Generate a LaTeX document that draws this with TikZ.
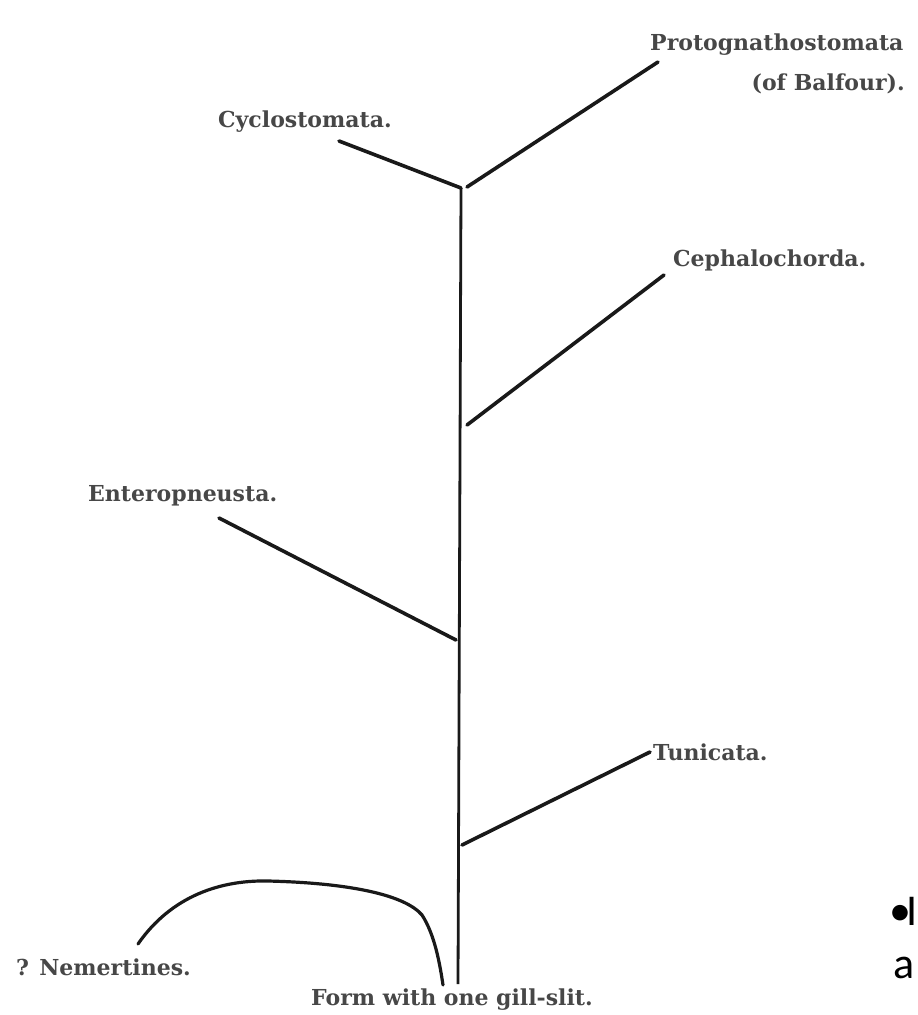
\documentclass[tikz,border=0pt]{standalone}
\usepackage{fontspec}
\setmainfont{DejaVu Serif}
\newfontfamily\slidefont{Carlito}
\begin{document}
\begin{tikzpicture}[x=1pt,y=-1pt,
  lbl/.style={font=\fontsize{22}{26}\selectfont\bfseries, inner sep=0pt, text=black!72},
  slide/.style={font=\slidefont\fontsize{44}{48}\selectfont, inner sep=0pt, text=black},
  branch/.style={line width=3.6pt, black!90, line cap=round},
  stem/.style={line width=2.8pt, black!90}]
\useasboundingbox (0,0) rectangle (918,1015);
% labels
\node[lbl, anchor=west] (proto) at (650,45) {Protognathostomata};
\node[lbl, anchor=east] (balf) at (905,84) {(of Balfour).};
\node[lbl, anchor=west] (cyclo) at (218,122) {Cyclostomata.};
\node[lbl, anchor=west] (ceph) at (673,260) {Cephalochorda.};
\node[lbl, anchor=west] (entero) at (88,496) {Enteropneusta.};
\node[lbl, anchor=west] (tuni) at (653,752) {Tunicata.};
\node[lbl, anchor=west] (nem) at (16,967) {? Nemertines.};
\node[lbl, anchor=west] (form) at (311,1000) {Form with one gill-slit.};
% coordinates
\coordinate (fork) at (461,188);
\coordinate (base) at (458,984);
\coordinate (cycE) at (339,141);
\coordinate (proE) at (658,62);
\coordinate (proJ) at (467,187);
\coordinate (cepJ) at (467,425);
\coordinate (cepE) at (664,275);
\coordinate (entJ) at (456,640);
\coordinate (entE) at (219,518);
\coordinate (tunJ) at (462,845);
\coordinate (tunE) at (650,752);
\coordinate (nemS) at (138,944);
\coordinate (nemE) at (443,985);
% stem and branches
\draw[stem] (fork) -- (base);
\draw[branch] (cycE) -- (fork);
\draw[branch] (proJ) -- (proE);
\draw[branch] (cepJ) -- (cepE);
\draw[branch] (entE) -- (entJ);
\draw[branch] (tunJ) -- (tunE);
\draw[branch, line width=3.2pt] (nemS) .. controls (172,895) and (222,880) .. (268,881)
   .. controls (350,883) and (405,895) .. (422,915)
   .. controls (435,935) and (440,965) .. (nemE);
% slide remnants
\node[slide, anchor=base] (bul) at (900,925) {•};
\node[slide, anchor=base east] (ii) at (918,925) {I};
\node[slide, anchor=base west] (aa) at (893,978) {a};
\end{tikzpicture}
\end{document}
